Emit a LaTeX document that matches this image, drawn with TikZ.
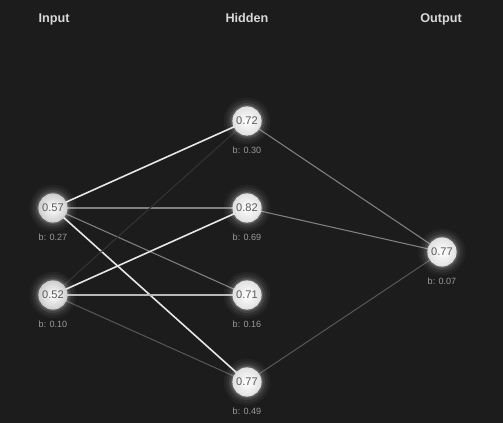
\documentclass[tikz,border=0pt]{standalone}
\usepackage{fontspec}
\setmainfont{Liberation Sans}
\usetikzlibrary{backgrounds}
\pgfdeclarelayer{edges}
\pgfdeclarelayer{glow}
\pgfsetlayers{background,edges,glow,main}
\definecolor{bg}{HTML}{1C1C1C}
\definecolor{hdr}{HTML}{D8D8D8}
\definecolor{biascol}{HTML}{9A9A9A}
\definecolor{ntext}{HTML}{5A5A5A}
\definecolor{nin}{HTML}{D0D0D0}
\definecolor{nhid}{HTML}{E2E2E2}
\definecolor{wstrong}{HTML}{E6E6E6}
\definecolor{wlight}{HTML}{B8B8B8}
\definecolor{wmid}{HTML}{808080}
\definecolor{wlow}{HTML}{555555}
\definecolor{wfaint}{HTML}{333333}
\begin{document}
\begin{tikzpicture}[x=0.75pt,y=-0.75pt,
  header/.style={text=hdr,anchor=base,font=\bfseries\fontsize{9.5}{11}\selectfont},
  neuron/.style={circle,minimum size=21pt,inner sep=0pt,draw=#1,line width=0.9pt,
     inner color=white,outer color=#1,text=ntext,font=\fontsize{8.3}{9}\selectfont},
  neuron/.default=nhid,
  bias/.style={text=biascol,font=\fontsize{6.8}{8}\selectfont},
  strong/.style={draw=wstrong,line width=1.2pt},
  light/.style={draw=wlight,line width=1pt},
  mid/.style={draw=wmid,line width=0.8pt},
  low/.style={draw=wlow,line width=0.8pt},
  faint/.style={draw=wfaint,line width=0.8pt}]
\begin{pgfonlayer}{background}
\fill[bg] (0,0) rectangle (503,423);
\end{pgfonlayer}
\useasboundingbox (0,0) rectangle (503,423);

\node[header] (hin) at (54,23) {Input};
\node[header] (hhid) at (247,23) {Hidden};
\node[header] (hout) at (441,23) {Output};

\node[neuron=nin] (i1) at (53,208) {0.57};
\node[neuron=nin] (i2) at (53,295) {0.52};
\node[neuron] (h1) at (247,121) {0.72};
\node[neuron] (h2) at (247,208) {0.82};
\node[neuron] (h3) at (247,295) {0.71};
\node[neuron] (h4) at (247,382) {0.77};
\node[neuron] (o1) at (442,252) {0.77};

\node[bias] (bi1) at (53,237) {b: 0.27};
\node[bias] (bi2) at (53,324) {b: 0.10};
\node[bias] (bh1) at (247,150) {b: 0.30};
\node[bias] (bh2) at (247,237) {b: 0.69};
\node[bias] (bh3) at (247,324) {b: 0.16};
\node[bias] (bh4) at (247,411) {b: 0.49};
\node[bias] (bo1) at (442,281) {b: 0.07};

\begin{pgfonlayer}{glow}
\foreach \n in {i1,i2,h1,h2,h3,h4,o1}{
  \fill[white,opacity=0.04] (\n) circle (17.5pt);
  \fill[white,opacity=0.06] (\n) circle (15.5pt);
  \fill[white,opacity=0.09] (\n) circle (13.5pt);
  \fill[white,opacity=0.14] (\n) circle (12pt);
}
\end{pgfonlayer}

\begin{pgfonlayer}{edges}
\draw[strong] (i1.center) -- (h1.center);
\draw[mid] (i1.center) -- (h2.center);
\draw[mid] (i1.center) -- (h3.center);
\draw[strong] (i1.center) -- (h4.center);
\draw[faint] (i2.center) -- (h1.center);
\draw[strong] (i2.center) -- (h2.center);
\draw[light] (i2.center) -- (h3.center);
\draw[low] (i2.center) -- (h4.center);
\draw[mid] (h1.center) -- (o1.center);
\draw[mid] (h2.center) -- (o1.center);
\draw[low] (h4.center) -- (o1.center);
\end{pgfonlayer}
\end{tikzpicture}
\end{document}
